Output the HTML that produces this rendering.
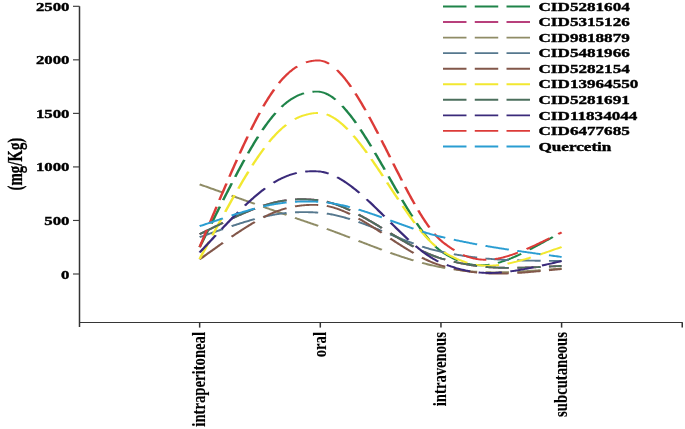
<!DOCTYPE html>
<html><head><meta charset="utf-8"><style>
html,body{margin:0;padding:0;background:#fff;}
body{width:685px;height:429px;overflow:hidden;}
svg{display:block;}
text{font-family:"Liberation Serif",serif;font-weight:bold;fill:#000;stroke:#000;stroke-width:0.4px;}
svg{will-change:transform;}
</style></head><body>
<svg width="685" height="429" viewBox="0 0 685 429">
<rect x="0" y="0" width="685" height="429" fill="#fff"/>

<g fill="none">
<path d="M79.5,6.3 L79.5,327" stroke="#333" stroke-width="1.5"/>
<path d="M79.5,322.4 L682.7,322.4" stroke="#363636" stroke-width="1.05"/>
<path d="M73,274.00 L79.5,274.00" stroke="#3c3c3c" stroke-width="1.15"/>
<path d="M73,220.46 L79.5,220.46" stroke="#3c3c3c" stroke-width="1.15"/>
<path d="M73,166.92 L79.5,166.92" stroke="#3c3c3c" stroke-width="1.15"/>
<path d="M73,113.38 L79.5,113.38" stroke="#3c3c3c" stroke-width="1.15"/>
<path d="M73,59.84 L79.5,59.84" stroke="#3c3c3c" stroke-width="1.15"/>
<path d="M73,6.30 L79.5,6.30" stroke="#3c3c3c" stroke-width="1.15"/>
<path d="M199.65,322.4 L199.65,327.6" stroke="#333" stroke-width="1.5"/>
<path d="M320.30,322.4 L320.30,327.6" stroke="#333" stroke-width="1.5"/>
<path d="M440.95,322.4 L440.95,327.6" stroke="#333" stroke-width="1.5"/>
<path d="M561.60,322.4 L561.60,327.6" stroke="#333" stroke-width="1.5"/>
<path d="M682.25,322.4 L682.25,327.6" stroke="#333" stroke-width="1.5"/>
</g>
<text transform="translate(69.5,278.55) scale(1.245,1)" font-size="13.50" text-anchor="end">0</text>
<text transform="translate(69.5,225.01) scale(1.245,1)" font-size="13.50" text-anchor="end">500</text>
<text transform="translate(69.5,171.47) scale(1.245,1)" font-size="13.50" text-anchor="end">1000</text>
<text transform="translate(69.5,117.93) scale(1.245,1)" font-size="13.50" text-anchor="end">1500</text>
<text transform="translate(69.5,64.39) scale(1.245,1)" font-size="13.50" text-anchor="end">2000</text>
<text transform="translate(69.5,10.85) scale(1.245,1)" font-size="13.50" text-anchor="end">2500</text>
<text transform="translate(21.6,190.4) scale(1.37,1) rotate(-90)" font-size="14.8" style="stroke-width:0.2px">(mg/Kg)</text>
<text transform="translate(205.05,332) scale(1.334,1) rotate(-90)" font-size="14.70" text-anchor="end" style="stroke-width:0.1px">intraperitoneal</text>
<text transform="translate(325.70,332) scale(1.334,1) rotate(-90)" font-size="14.70" text-anchor="end" style="stroke-width:0.1px">oral</text>
<text transform="translate(446.35,332) scale(1.334,1) rotate(-90)" font-size="14.70" text-anchor="end" style="stroke-width:0.1px">intravenous</text>
<text transform="translate(567.00,332) scale(1.334,1) rotate(-90)" font-size="14.70" text-anchor="end" style="stroke-width:0.1px">subcutaneous</text>
<g transform="scale(1.3570,1)" fill="none" stroke-width="1.90" stroke-linecap="butt" stroke-linejoin="round">
<path stroke="#1f8449" d="M147.13,247.25 148.12,244.52 149.11,241.81 150.09,239.13 151.07,236.47 152.03,233.84 152.98,231.24 153.36,230.20M155.79,223.58 156.70,221.08 157.61,218.61 158.52,216.16 159.41,213.73 160.30,211.33 161.17,208.96 162.04,206.61M164.44,200.18 165.28,197.93 166.12,195.70 166.94,193.50 167.77,191.32 168.58,189.17 169.39,187.05 170.19,184.95 170.82,183.28M173.33,176.79 174.10,174.82 174.87,172.87 175.62,170.94 176.38,169.04 177.13,167.16 177.87,165.30 178.61,163.47 179.34,161.67 180.07,159.89M182.79,153.34 183.50,151.68 184.20,150.04 184.90,148.42 185.59,146.83 186.28,145.26 186.97,143.71 187.65,142.19 188.33,140.69 189.01,139.22 189.68,137.77 190.22,136.62M193.40,130.07 194.05,128.78 194.71,127.50 195.36,126.25 196.01,125.03 196.65,123.82 197.30,122.64 197.94,121.48 198.58,120.35 199.22,119.24 199.86,118.15 200.50,117.08 201.14,116.04 201.78,115.02 202.41,114.02 203.05,113.04M207.49,106.83 208.12,106.04 208.76,105.26 209.39,104.51 210.03,103.77 210.67,103.07 211.31,102.38 211.95,101.71 212.59,101.07 213.23,100.44 213.87,99.84 214.52,99.26 215.17,98.71 215.82,98.17 216.47,97.66 217.12,97.16 217.77,96.69 218.43,96.24 219.09,95.81 219.75,95.40 220.42,95.02 221.09,94.65 221.76,94.31 222.43,93.98 223.11,93.68 223.79,93.40 224.07,93.29M230.24,91.78 230.96,91.71 231.68,91.65 232.42,91.62 233.15,91.61 233.89,91.62 234.64,91.66 235.39,91.75 236.14,91.89 236.89,92.09 237.64,92.33 238.40,92.64 239.15,92.99 239.91,93.39 240.67,93.84 241.43,94.34 242.19,94.88 242.95,95.48 243.72,96.12 244.48,96.80 245.25,97.53 246.01,98.30 246.78,99.12 247.24,99.62M252.19,105.93 252.96,107.06 253.74,108.21 254.52,109.41 255.29,110.63 256.07,111.89 256.85,113.18 257.63,114.50 258.41,115.85 259.19,117.23 259.98,118.63 260.76,120.07 261.54,121.53 262.33,123.01M265.62,129.52 266.41,131.12 267.19,132.75 267.98,134.39 268.77,136.06 269.55,137.74 270.34,139.44 271.12,141.15 271.91,142.88 272.70,144.63 273.49,146.38M276.32,152.81 277.10,154.62 277.89,156.44 278.68,158.27 279.46,160.10 280.25,161.94 281.03,163.78 281.82,165.63 282.60,167.49 283.39,169.34 283.55,169.72M286.37,176.41 287.15,178.27 287.93,180.13 288.71,181.98 289.49,183.83 290.27,185.68 291.05,187.52 291.83,189.35 292.61,191.18 293.39,193.00 293.54,193.36M296.33,199.83 297.10,201.60 297.88,203.35 298.65,205.10 299.42,206.83 300.19,208.54 300.95,210.24 301.72,211.92 302.49,213.58 303.25,215.22 303.86,216.52M307.05,223.13 307.81,224.65 308.56,226.14 309.32,227.60 310.07,229.04 310.82,230.45 311.57,231.83 312.32,233.18 313.07,234.51 313.81,235.80 314.55,237.06 315.29,238.29 316.03,239.49 316.33,239.96M320.73,246.31 321.45,247.24 322.18,248.12 322.90,248.97 323.62,249.77 324.34,250.53 325.05,251.25 325.77,251.92 326.48,252.55 327.18,253.17 327.89,253.76 328.58,254.35 329.28,254.91 329.97,255.46 330.66,256.00 331.34,256.51 332.02,257.02 332.70,257.50 333.37,257.98 334.04,258.43 334.71,258.87 335.37,259.30 336.03,259.71 336.69,260.10 337.35,260.48M343.54,263.37 344.17,263.60 344.81,263.81 345.44,264.00 346.07,264.18 346.71,264.35 347.34,264.50 347.97,264.64 348.60,264.77 349.23,264.88 349.86,264.98 350.49,265.06 351.12,265.13 351.75,265.19 352.38,265.24 353.01,265.27 353.64,265.28 354.27,265.29 354.90,265.28 355.54,265.26 356.17,265.22 356.81,265.18 357.44,265.11 358.08,265.04 358.72,264.96 359.36,264.86 360.00,264.75 360.65,264.62 360.78,264.60M366.95,262.82 367.62,262.56 368.30,262.30 368.98,262.03 369.66,261.74 370.34,261.44 371.03,261.13 371.72,260.81 372.42,260.48 373.12,260.14 373.82,259.79 374.53,259.42 375.25,259.05 375.96,258.66 376.69,258.27 377.41,257.86 378.15,257.44 378.88,257.01 379.63,256.57 380.37,256.12 381.13,255.66 381.88,255.19 382.65,254.71 383.42,254.22 384.04,253.82M390.29,249.60 391.12,249.01 391.96,248.42 392.80,247.82 393.66,247.21 394.52,246.59 395.38,245.96 396.26,245.32 397.14,244.67 398.03,244.01 398.93,243.35 399.84,242.67 400.75,241.99 401.67,241.30 402.60,240.60 403.54,239.89 404.49,239.17 405.45,238.45 406.42,237.72 407.39,236.98"/>
<path stroke="#b8407c" d="M147.13,234.25 148.13,233.58 149.12,232.91 150.10,232.26 151.07,231.60 152.03,230.96 152.98,230.32 153.93,229.68 154.86,229.06 155.79,228.44 156.71,227.82 157.62,227.22 158.52,226.62 159.42,226.02 160.30,225.43 161.18,224.85 162.05,224.28 162.92,223.71 163.77,223.15 164.28,222.81M170.68,218.68 171.47,218.18 172.26,217.69 173.04,217.20 173.81,216.72 174.58,216.24 175.34,215.77 176.10,215.31 176.85,214.86 177.59,214.41 178.33,213.96 179.07,213.53 179.80,213.10 180.52,212.68 181.24,212.26 181.96,211.85 182.67,211.45 183.38,211.05 184.08,210.66 184.78,210.28 185.48,209.90 186.17,209.53 186.86,209.16 187.54,208.81 187.81,208.66M193.95,205.70 194.60,205.42 195.25,205.13 195.90,204.86 196.55,204.59 197.19,204.33 197.84,204.07 198.48,203.83 199.12,203.58 199.76,203.35 200.40,203.12 201.04,202.90 201.68,202.68 202.31,202.47 202.95,202.27 203.58,202.07 204.22,201.88 204.85,201.70 205.48,201.52 206.12,201.35 206.75,201.19 207.39,201.03 208.02,200.88 208.66,200.74 209.29,200.60 209.93,200.47 210.56,200.35 211.20,200.23M217.40,199.44 218.05,199.40 218.71,199.36 219.37,199.32 220.04,199.30 220.70,199.28 221.37,199.26 222.04,199.26 222.72,199.26 223.40,199.26 224.08,199.28 224.76,199.30 225.45,199.32 226.14,199.35 226.84,199.39 227.54,199.44 228.25,199.49 228.95,199.55 229.67,199.62 230.38,199.69 231.11,199.77 231.83,199.86 232.57,199.95 233.30,200.05 234.04,200.16 234.49,200.22M240.79,201.75 241.55,202.00 242.30,202.27 243.06,202.54 243.81,202.83 244.57,203.14 245.33,203.45 246.09,203.78 246.85,204.12 247.61,204.48 248.37,204.84 249.13,205.22 249.90,205.61 250.66,206.00 251.42,206.41 252.19,206.83 252.96,207.26 253.72,207.70 254.49,208.15 255.26,208.61 256.02,209.08 256.79,209.56 257.56,210.05 258.02,210.34M264.19,214.56 264.97,215.12 265.74,215.68 266.51,216.25 267.29,216.83 268.06,217.41 268.84,218.00 269.61,218.59 270.39,219.19 271.16,219.79 271.94,220.40 272.71,221.01 273.49,221.62 274.26,222.24 275.04,222.86 275.82,223.48 276.59,224.10 277.37,224.73 278.15,225.36 278.92,226.00 279.70,226.63 280.48,227.27 281.25,227.90 281.41,228.03M287.62,233.15 288.40,233.78 289.18,234.42 289.95,235.06 290.73,235.69 291.50,236.32 292.28,236.95 293.05,237.58 293.83,238.20 294.60,238.82 295.37,239.44 296.15,240.05 296.92,240.66 297.70,241.27 298.47,241.87 299.24,242.47 300.01,243.07 300.78,243.65 301.55,244.24 302.33,244.82 303.10,245.39 303.87,245.96 304.63,246.52 304.79,246.63M311.07,250.95 311.84,251.44 312.60,251.92 313.36,252.40 314.12,252.86 314.89,253.31 315.65,253.76 316.40,254.19 317.16,254.62 317.92,255.03 318.68,255.44 319.43,255.83 320.19,256.21 320.94,256.58 321.70,256.94 322.45,257.29 323.20,257.63 323.95,257.95 324.70,258.26 325.45,258.56 326.20,258.84 326.94,259.12 327.68,259.39 328.12,259.55M334.40,261.69 335.10,261.91 335.79,262.13 336.47,262.34 337.16,262.55 337.84,262.75 338.51,262.95 339.19,263.14 339.86,263.33 340.53,263.51 341.19,263.69 341.86,263.86 342.52,264.03 343.17,264.20 343.83,264.36 344.48,264.52 345.14,264.67 345.79,264.82 346.43,264.97 347.08,265.11 347.73,265.24 348.37,265.38 349.02,265.51 349.66,265.63 350.30,265.75 350.94,265.87 351.58,265.98M357.84,266.90 358.48,266.98 359.12,267.05 359.76,267.12 360.41,267.18 361.05,267.24 361.70,267.30 362.35,267.36 362.99,267.41 363.65,267.46 364.30,267.51 364.95,267.55 365.61,267.59 366.27,267.63 366.93,267.66 367.59,267.69 368.26,267.72 368.93,267.74 369.60,267.77 370.27,267.79 370.95,267.80 371.63,267.82 372.31,267.83 373.00,267.84 373.69,267.85 374.38,267.85 374.94,267.85M381.26,267.77 382.00,267.76 382.75,267.73 383.50,267.71 384.26,267.68 385.02,267.66 385.79,267.63 386.56,267.59 387.34,267.56 388.12,267.53 388.91,267.49 389.71,267.45 390.52,267.41 391.33,267.37 392.14,267.32 392.97,267.28 393.80,267.23 394.64,267.18 395.48,267.13 396.33,267.08 397.19,267.03 398.06,266.98 398.41,266.95M404.53,266.55 405.46,266.49 406.41,266.42 407.36,266.36 408.31,266.29 409.28,266.22 410.26,266.16 411.25,266.09 412.24,266.02 413.25,265.95 413.85,265.90"/>
<path stroke="#8f8c66" d="M147.13,184.36 148.12,184.84 149.11,185.32 150.09,185.79 151.06,186.26 152.03,186.72 152.98,187.18 153.92,187.63 154.86,188.08 155.78,188.52 156.70,188.97 157.61,189.40 158.51,189.84 159.41,190.27 160.29,190.69 161.17,191.11 162.04,191.53 162.90,191.94 163.76,192.36 164.27,192.60M170.66,195.67 171.45,196.05 172.24,196.43 173.02,196.80 173.79,197.17 174.56,197.54 175.32,197.90 176.07,198.26 176.82,198.62 177.57,198.98 178.31,199.34 179.04,199.69 179.77,200.04 180.50,200.38 181.22,200.73 181.93,201.07 182.64,201.41 183.35,201.75 184.05,202.09 184.75,202.42 185.45,202.75 186.14,203.08 186.83,203.41 187.51,203.74 187.78,203.87M194.05,206.86 194.70,207.17 195.35,207.48 196.00,207.78 196.65,208.09 197.29,208.40 197.94,208.71 198.58,209.01 199.22,209.31 199.86,209.62 200.50,209.92 201.13,210.22 201.77,210.53 202.41,210.83 203.04,211.13 203.68,211.43 204.31,211.73 204.95,212.03 205.58,212.33 206.21,212.63 206.85,212.93 207.48,213.23 208.12,213.53 208.75,213.83 209.39,214.13 210.03,214.43 210.66,214.73 211.17,214.97M217.38,217.88 218.03,218.19 218.69,218.50 219.35,218.81 220.02,219.12 220.68,219.43 221.35,219.74 222.03,220.06 222.70,220.37 223.38,220.69 224.06,221.01 224.75,221.33 225.44,221.65 226.13,221.98 226.83,222.30 227.53,222.63 228.24,222.96 228.95,223.29 229.66,223.62 230.38,223.95 231.10,224.29 231.83,224.63 232.56,224.97 233.30,225.31 234.04,225.66 234.49,225.87M240.80,228.88 241.56,229.25 242.31,229.63 243.07,230.00 243.83,230.38 244.58,230.76 245.34,231.14 246.10,231.52 246.86,231.90 247.62,232.29 248.39,232.67 249.15,233.06 249.91,233.45 250.67,233.84 251.44,234.24 252.20,234.63 252.97,235.03 253.74,235.42 254.50,235.82 255.27,236.22 256.04,236.62 256.81,237.02 257.57,237.42 257.88,237.58M264.20,240.89 264.98,241.29 265.75,241.69 266.52,242.10 267.30,242.50 268.07,242.91 268.84,243.31 269.62,243.71 270.39,244.12 271.17,244.52 271.94,244.92 272.72,245.32 273.49,245.72 274.27,246.12 275.04,246.52 275.82,246.92 276.60,247.31 277.37,247.71 278.15,248.10 278.92,248.50 279.70,248.89 280.48,249.28 281.25,249.67 281.41,249.75M287.61,252.80 288.39,253.17 289.17,253.54 289.94,253.91 290.72,254.28 291.49,254.64 292.27,255.00 293.04,255.36 293.81,255.72 294.59,256.07 295.36,256.43 296.14,256.77 296.91,257.12 297.68,257.46 298.45,257.80 299.23,258.14 300.00,258.47 300.77,258.80 301.54,259.13 302.31,259.45 303.08,259.77 303.85,260.09 304.62,260.40 304.77,260.47M311.06,262.89 311.82,263.16 312.59,263.44 313.35,263.70 314.11,263.97 314.87,264.23 315.63,264.48 316.39,264.73 317.15,264.98 317.91,265.22 318.67,265.45 319.42,265.68 320.18,265.91 320.94,266.13 321.69,266.34 322.44,266.55 323.20,266.76 323.95,266.96 324.70,267.15 325.45,267.34 326.20,267.53 326.95,267.70 327.69,267.88 328.13,267.98M334.42,269.34 335.11,269.48 335.80,269.61 336.49,269.74 337.18,269.87 337.86,269.99 338.53,270.11 339.21,270.23 339.88,270.34 340.55,270.45 341.22,270.56 341.88,270.66 342.54,270.76 343.20,270.86 343.86,270.95 344.51,271.04 345.16,271.13 345.81,271.21 346.46,271.29 347.11,271.37 347.76,271.44 348.40,271.51 349.05,271.58 349.69,271.64 350.33,271.71 350.97,271.76 351.61,271.82M357.75,272.21 358.39,272.23 359.03,272.26 359.67,272.28 360.31,272.29 360.96,272.31 361.60,272.32 362.25,272.33 362.90,272.34 363.55,272.34 364.20,272.34 364.86,272.34 365.51,272.34 366.17,272.34 366.83,272.33 367.49,272.32 368.16,272.31 368.83,272.29 369.50,272.27 370.17,272.25 370.85,272.23 371.53,272.21 372.21,272.18 372.89,272.15 373.58,272.12 374.28,272.09 374.97,272.05M381.14,271.67 381.88,271.61 382.63,271.55 383.38,271.50 384.13,271.44 384.89,271.37 385.66,271.31 386.43,271.24 387.21,271.18 387.99,271.11 388.78,271.04 389.57,270.96 390.38,270.89 391.18,270.81 392.00,270.74 392.82,270.66 393.65,270.58 394.49,270.49 395.33,270.41 396.18,270.32 397.03,270.24 397.90,270.15 398.42,270.09M404.54,269.45 405.47,269.35 406.41,269.25 407.36,269.15 408.32,269.04 409.29,268.94 410.26,268.83 411.25,268.73 412.24,268.62 413.25,268.51 413.85,268.44"/>
<path stroke="#56788e" d="M147.13,237.19 148.12,236.71 149.11,236.24 150.09,235.78 151.07,235.31 152.03,234.86 152.98,234.41 153.92,233.96 154.86,233.51 155.79,233.08 156.71,232.64 157.62,232.21 158.52,231.79 159.41,231.37 160.30,230.95 161.17,230.54 162.04,230.13 162.91,229.73 163.76,229.34 164.27,229.10M170.67,226.18 171.46,225.82 172.24,225.47 173.02,225.13 173.80,224.78 174.56,224.45 175.32,224.12 176.08,223.79 176.83,223.46 177.57,223.15 178.31,222.83 179.05,222.52 179.78,222.22 180.50,221.92 181.22,221.62 181.94,221.33 182.65,221.04 183.36,220.76 184.06,220.48 184.76,220.21 185.46,219.94 186.15,219.68 186.83,219.42 187.52,219.16 187.79,219.06M194.06,216.91 194.71,216.70 195.36,216.50 196.01,216.30 196.66,216.11 197.30,215.92 197.94,215.74 198.59,215.56 199.23,215.39 199.87,215.22 200.51,215.05 201.14,214.89 201.78,214.73 202.42,214.58 203.05,214.44 203.69,214.29 204.32,214.16 204.95,214.02 205.59,213.89 206.22,213.77 206.86,213.65 207.49,213.53 208.13,213.42 208.76,213.32 209.40,213.21 210.03,213.12 210.67,213.02 211.18,212.95M217.38,212.33 218.04,212.29 218.70,212.25 219.36,212.22 220.02,212.19 220.69,212.17 221.36,212.15 222.03,212.14 222.71,212.13 223.38,212.12 224.07,212.12 224.75,212.12 225.44,212.13 226.14,212.15 226.83,212.16 227.53,212.19 228.24,212.21 228.95,212.24 229.66,212.28 230.38,212.32 231.10,212.36 231.83,212.41 232.56,212.47 233.30,212.52 234.04,212.59 234.49,212.63M240.80,213.58 241.55,213.74 242.31,213.91 243.06,214.09 243.82,214.28 244.58,214.47 245.34,214.68 246.10,214.89 246.86,215.11 247.62,215.34 248.38,215.58 249.14,215.83 249.90,216.08 250.67,216.34 251.43,216.61 252.20,216.88 252.96,217.17 253.73,217.45 254.50,217.75 255.26,218.05 256.03,218.36 256.80,218.68 257.57,219.00 257.87,219.13M264.19,221.98 264.97,222.35 265.74,222.73 266.51,223.11 267.29,223.49 268.06,223.88 268.83,224.27 269.61,224.66 270.38,225.06 271.16,225.46 271.93,225.86 272.71,226.27 273.48,226.68 274.26,227.09 275.03,227.50 275.81,227.92 276.59,228.34 277.36,228.76 278.14,229.18 278.91,229.60 279.69,230.03 280.47,230.46 281.24,230.88 281.40,230.97M287.61,234.41 288.38,234.84 289.16,235.26 289.93,235.69 290.71,236.12 291.48,236.55 292.26,236.97 293.03,237.39 293.81,237.82 294.58,238.24 295.35,238.66 296.13,239.07 296.90,239.49 297.67,239.90 298.45,240.31 299.22,240.71 299.99,241.12 300.76,241.52 301.53,241.92 302.30,242.31 303.07,242.70 303.84,243.09 304.61,243.47 304.77,243.55M311.05,246.52 311.82,246.85 312.58,247.19 313.34,247.52 314.11,247.84 314.87,248.15 315.63,248.46 316.39,248.77 317.15,249.07 317.91,249.36 318.67,249.64 319.42,249.92 320.18,250.19 320.93,250.45 321.69,250.70 322.44,250.95 323.20,251.19 323.95,251.42 324.70,251.65 325.45,251.86 326.20,252.07 326.95,252.27 327.69,252.47 328.13,252.59M334.42,254.18 335.12,254.35 335.81,254.51 336.49,254.67 337.18,254.83 337.86,254.98 338.54,255.14 339.21,255.28 339.88,255.43 340.55,255.57 341.22,255.71 341.88,255.85 342.54,255.99 343.20,256.12 343.86,256.25 344.51,256.38 345.17,256.50 345.82,256.63 346.47,256.75 347.12,256.87 347.76,256.98 348.41,257.09 349.05,257.20 349.69,257.31 350.33,257.42 350.98,257.52 351.62,257.62M357.75,258.49 358.39,258.57 359.03,258.64 359.68,258.72 360.32,258.79 360.96,258.86 361.61,258.93 362.26,259.00 362.91,259.07 363.56,259.13 364.21,259.20 364.86,259.26 365.52,259.32 366.18,259.38 366.84,259.43 367.50,259.49 368.16,259.54 368.83,259.59 369.50,259.64 370.17,259.69 370.85,259.74 371.53,259.79 372.21,259.83 372.90,259.88 373.59,259.92 374.28,259.96 374.98,260.00M381.15,260.30 381.89,260.32 382.63,260.35 383.38,260.38 384.13,260.41 384.89,260.43 385.66,260.46 386.43,260.48 387.21,260.51 387.99,260.53 388.78,260.55 389.58,260.57 390.38,260.60 391.19,260.62 392.00,260.64 392.82,260.65 393.65,260.67 394.49,260.69 395.33,260.71 396.18,260.73 397.04,260.74 397.90,260.76 398.42,260.77M404.54,260.87 405.47,260.89 406.41,260.90 407.36,260.92 408.32,260.93 409.29,260.95 410.26,260.96 411.25,260.97 412.24,260.99 413.25,261.00 413.85,261.01"/>
<path stroke="#82574a" d="M147.13,259.38 148.12,258.41 149.11,257.45 150.09,256.49 151.07,255.55 152.03,254.61 152.98,253.69 153.92,252.77 154.86,251.86 155.79,250.97 156.70,250.08 157.61,249.20 158.52,248.33 159.41,247.46 160.30,246.61 161.17,245.77 162.04,244.93 162.91,244.11 163.76,243.29 164.27,242.81M170.67,236.79 171.46,236.06 172.24,235.34 173.02,234.62 173.79,233.92 174.56,233.22 175.32,232.54 176.08,231.86 176.83,231.19 177.57,230.53 178.31,229.88 179.05,229.23 179.78,228.60 180.50,227.97 181.22,227.35 181.94,226.75 182.65,226.15 183.36,225.56 184.06,224.97 184.76,224.40 185.45,223.83 186.14,223.28 186.83,222.73 187.51,222.19 187.79,221.98M194.05,217.36 194.70,216.91 195.36,216.47 196.00,216.04 196.65,215.62 197.30,215.21 197.94,214.80 198.58,214.41 199.22,214.02 199.86,213.64 200.50,213.26 201.14,212.90 201.78,212.55 202.41,212.20 203.05,211.86 203.68,211.53 204.32,211.21 204.95,210.89 205.59,210.59 206.22,210.29 206.85,210.00 207.49,209.72 208.12,209.44 208.76,209.18 209.39,208.92 210.03,208.67 210.67,208.43 211.18,208.24M217.38,206.39 218.04,206.24 218.70,206.10 219.36,205.97 220.02,205.84 220.69,205.72 221.36,205.61 222.03,205.51 222.70,205.41 223.38,205.32 224.07,205.24 224.75,205.17 225.44,205.11 226.13,205.05 226.83,205.00 227.53,204.96 228.24,204.92 228.95,204.90 229.66,204.88 230.38,204.87 231.10,204.86 231.83,204.87 232.56,204.88 233.30,204.90 234.04,204.93 234.49,204.95M240.80,205.95 241.55,206.15 242.31,206.37 243.07,206.61 243.83,206.87 244.58,207.13 245.34,207.42 246.10,207.72 246.86,208.04 247.62,208.37 248.39,208.71 249.15,209.07 249.91,209.44 250.68,209.83 251.44,210.23 252.21,210.64 252.97,211.07 253.74,211.51 254.51,211.96 255.27,212.42 256.04,212.90 256.81,213.38 257.58,213.88 257.89,214.08M264.21,218.56 264.99,219.14 265.76,219.74 266.53,220.34 267.31,220.95 268.08,221.56 268.86,222.19 269.63,222.81 270.41,223.45 271.18,224.09 271.96,224.74 272.74,225.39 273.51,226.04 274.29,226.70 275.06,227.37 275.84,228.04 276.62,228.71 277.39,229.39 278.17,230.07 278.95,230.75 279.72,231.43 280.50,232.12 281.28,232.81M287.64,238.48 288.42,239.17 289.19,239.86 289.97,240.55 290.74,241.24 291.52,241.92 292.29,242.61 293.07,243.29 293.84,243.96 294.62,244.64 295.39,245.31 296.16,245.98 296.94,246.64 297.71,247.30 298.48,247.95 299.25,248.60 300.03,249.24 300.80,249.88 301.57,250.51 302.34,251.13 303.11,251.75 303.88,252.36 304.65,252.97 304.80,253.09M310.93,257.62 311.69,258.15 312.46,258.66 313.22,259.17 313.98,259.66 314.74,260.15 315.50,260.62 316.26,261.08 317.02,261.53 317.77,261.96 318.53,262.39 319.29,262.80 320.04,263.20 320.80,263.58 321.55,263.95 322.30,264.31 323.05,264.65 323.80,264.98 324.55,265.29 325.30,265.59 326.05,265.87 326.79,266.14 327.53,266.41 328.12,266.62M334.40,268.69 335.09,268.90 335.78,269.11 336.47,269.31 337.15,269.50 337.83,269.69 338.51,269.88 339.18,270.05 339.85,270.23 340.52,270.40 341.19,270.56 341.85,270.72 342.51,270.88 343.17,271.03 343.82,271.18 344.48,271.32 345.13,271.46 345.78,271.59 346.43,271.72 347.07,271.84 347.72,271.96 348.36,272.07 349.01,272.18 349.65,272.29 350.29,272.39 350.93,272.48 351.57,272.58M357.83,273.27 358.47,273.32 359.11,273.36 359.75,273.40 360.40,273.44 361.04,273.47 361.69,273.50 362.34,273.53 362.98,273.55 363.64,273.57 364.29,273.59 364.94,273.60 365.60,273.61 366.26,273.61 366.92,273.61 367.58,273.61 368.25,273.61 368.92,273.60 369.59,273.59 370.26,273.57 370.94,273.55 371.62,273.53 372.30,273.51 372.99,273.48 373.68,273.45 374.38,273.42 374.93,273.39M381.25,272.95 381.99,272.88 382.74,272.82 383.49,272.75 384.25,272.68 385.01,272.60 385.78,272.53 386.55,272.45 387.33,272.37 388.12,272.28 388.91,272.20 389.71,272.11 390.51,272.02 391.32,271.93 392.14,271.83 392.96,271.73 393.79,271.64 394.63,271.53 395.48,271.43 396.33,271.33 397.19,271.22 398.05,271.11 398.40,271.07M404.53,270.27 405.46,270.15 406.40,270.02 407.35,269.89 408.31,269.77 409.28,269.64 410.26,269.51 411.24,269.37 412.24,269.24 413.25,269.10 413.85,269.02"/>
<path stroke="#f2e830" d="M147.13,258.99 148.12,256.46 149.11,253.97 150.09,251.49 151.07,249.04 152.03,246.62 152.98,244.21 153.92,241.84M156.52,235.30 157.43,233.01 158.34,230.75 159.23,228.51 160.12,226.29 161.00,224.09 161.87,221.92 162.73,219.78 163.25,218.50M165.95,211.83 166.78,209.79 167.60,207.78 168.42,205.78 169.23,203.82 170.03,201.87 170.82,199.95 171.61,198.05 172.40,196.17 172.86,195.06M175.62,188.54 176.38,186.78 177.13,185.04 177.87,183.32 178.61,181.63 179.34,179.96 180.07,178.31 180.79,176.68 181.51,175.08 182.22,173.49 182.93,171.93 183.07,171.62M186.01,165.32 186.69,163.87 187.38,162.45 188.06,161.05 188.74,159.67 189.41,158.31 190.08,156.97 190.75,155.66 191.42,154.36 192.08,153.09 192.74,151.84 193.40,150.60 194.05,149.39 194.70,148.20M198.33,141.92 198.97,140.87 199.61,139.84 200.25,138.82 200.88,137.83 201.52,136.86 202.16,135.91 202.79,134.98 203.43,134.07 204.06,133.17 204.70,132.30 205.33,131.45 205.97,130.62 206.60,129.81 207.23,129.02 207.87,128.25 208.50,127.49 209.14,126.76 209.78,126.05 210.41,125.35 210.92,124.81M217.25,119.19 217.90,118.72 218.56,118.27 219.22,117.83 219.89,117.42 220.55,117.02 221.22,116.64 221.89,116.28 222.57,115.94 223.25,115.62 223.93,115.32 224.61,115.03 225.30,114.77 225.99,114.52 226.69,114.29 227.39,114.07 228.10,113.88 228.80,113.70 229.52,113.55 230.24,113.40 230.96,113.28 231.68,113.18 232.42,113.09 233.15,113.02 233.89,112.97 234.34,112.95M240.66,114.38 241.42,114.76 242.18,115.18 242.94,115.65 243.70,116.15 244.46,116.70 245.23,117.28 245.99,117.90 246.76,118.56 247.52,119.26 248.29,119.99 249.06,120.76 249.83,121.56 250.60,122.40 251.37,123.27 252.14,124.18 252.92,125.11 253.69,126.08 254.46,127.08 255.24,128.10 256.01,129.16 256.17,129.37M260.52,135.81 261.30,137.04 262.08,138.30 262.86,139.58 263.64,140.88 264.42,142.20 265.20,143.54 265.98,144.90 266.77,146.28 267.55,147.68 268.33,149.09 269.11,150.53 269.90,151.97 270.37,152.85M273.65,159.12 274.44,160.65 275.22,162.18 276.00,163.73 276.79,165.28 277.57,166.85 278.35,168.42 279.14,170.00 279.92,171.59 280.70,173.18 281.48,174.77 282.11,176.06M285.24,182.49 286.02,184.10 286.80,185.71 287.58,187.32 288.36,188.93 289.14,190.54 289.92,192.14 290.69,193.74 291.47,195.34 292.25,196.93 293.02,198.52 293.49,199.47M296.74,206.03 297.51,207.56 298.29,209.09 299.06,210.61 299.83,212.11 300.60,213.60 301.36,215.08 302.13,216.54 302.90,217.98 303.66,219.41 304.43,220.83 305.19,222.23 305.65,223.06M309.30,229.44 310.05,230.70 310.81,231.95 311.56,233.17 312.31,234.37 313.07,235.54 313.82,236.69 314.56,237.81 315.31,238.90 316.06,239.97 316.80,241.00 317.54,242.01 318.29,242.99 319.03,243.93 319.77,244.85 320.50,245.73 321.09,246.41M327.20,252.23 327.92,252.80 328.63,253.35 329.33,253.89 330.03,254.41 330.73,254.93 331.42,255.42 332.11,255.91 332.80,256.39 333.48,256.85 334.16,257.30 334.83,257.73 335.51,258.16 336.18,258.57 336.84,258.97 337.51,259.35 338.17,259.73 338.83,260.09 339.48,260.44 340.14,260.78 340.79,261.10 341.44,261.42 342.08,261.72 342.73,262.01 343.37,262.29 344.02,262.56 344.40,262.72M350.63,264.68 351.27,264.82 351.90,264.95 352.53,265.07 353.17,265.18 353.80,265.28 354.43,265.37 355.07,265.45 355.70,265.52 356.34,265.58 356.97,265.62 357.61,265.66 358.25,265.69 358.89,265.71 359.53,265.72 360.18,265.72 360.82,265.71 361.47,265.69 362.11,265.66 362.76,265.62 363.42,265.57 364.07,265.51 364.73,265.44 365.39,265.37 366.05,265.28 366.71,265.19 367.38,265.09 367.78,265.02M373.96,263.66 374.66,263.47 375.37,263.27 376.09,263.06 376.80,262.84 377.53,262.62 378.25,262.39 378.99,262.15 379.72,261.90 380.47,261.65 381.21,261.38 381.97,261.11 382.72,260.84 383.49,260.55 384.26,260.26 385.03,259.96 385.81,259.66 386.60,259.34 387.40,259.02 388.20,258.70 389.00,258.36 389.81,258.02 390.63,257.68 391.13,257.47M397.45,254.68 398.33,254.28 399.22,253.87 400.13,253.46 401.03,253.04 401.95,252.61 402.88,252.18 403.81,251.74 404.75,251.30 405.71,250.85 406.67,250.40 407.64,249.94 408.61,249.48 409.60,249.01 410.60,248.54 411.61,248.06 412.62,247.58 413.65,247.09 413.85,246.99"/>
<path stroke="#4c6f5d" d="M147.13,234.25 148.13,233.58 149.12,232.91 150.10,232.26 151.07,231.60 152.03,230.96 152.98,230.32 153.93,229.68 154.86,229.06 155.79,228.44 156.71,227.82 157.62,227.22 158.52,226.62 159.42,226.02 160.30,225.43 161.18,224.85 162.05,224.28 162.92,223.71 163.77,223.15 164.28,222.81M170.68,218.68 171.47,218.18 172.26,217.69 173.04,217.20 173.81,216.72 174.58,216.24 175.34,215.77 176.10,215.31 176.85,214.86 177.59,214.41 178.33,213.96 179.07,213.53 179.80,213.10 180.52,212.68 181.24,212.26 181.96,211.85 182.67,211.45 183.38,211.05 184.08,210.66 184.78,210.28 185.48,209.90 186.17,209.53 186.86,209.16 187.54,208.81 187.81,208.66M193.95,205.70 194.60,205.42 195.25,205.13 195.90,204.86 196.55,204.59 197.19,204.33 197.84,204.07 198.48,203.83 199.12,203.58 199.76,203.35 200.40,203.12 201.04,202.90 201.68,202.68 202.31,202.47 202.95,202.27 203.58,202.07 204.22,201.88 204.85,201.70 205.48,201.52 206.12,201.35 206.75,201.19 207.39,201.03 208.02,200.88 208.66,200.74 209.29,200.60 209.93,200.47 210.56,200.35 211.20,200.23M217.40,199.44 218.05,199.40 218.71,199.36 219.37,199.32 220.04,199.30 220.70,199.28 221.37,199.26 222.04,199.26 222.72,199.26 223.40,199.26 224.08,199.28 224.76,199.30 225.45,199.32 226.14,199.35 226.84,199.39 227.54,199.44 228.25,199.49 228.95,199.55 229.67,199.62 230.38,199.69 231.11,199.77 231.83,199.86 232.57,199.95 233.30,200.05 234.04,200.16 234.49,200.22M240.79,201.75 241.55,202.00 242.30,202.27 243.06,202.54 243.81,202.83 244.57,203.14 245.33,203.45 246.09,203.78 246.85,204.12 247.61,204.48 248.37,204.84 249.13,205.22 249.90,205.61 250.66,206.00 251.42,206.41 252.19,206.83 252.96,207.26 253.72,207.70 254.49,208.15 255.26,208.61 256.02,209.08 256.79,209.56 257.56,210.05 258.02,210.34M264.19,214.56 264.97,215.12 265.74,215.68 266.51,216.25 267.29,216.83 268.06,217.41 268.84,218.00 269.61,218.59 270.39,219.19 271.16,219.79 271.94,220.40 272.71,221.01 273.49,221.62 274.26,222.24 275.04,222.86 275.82,223.48 276.59,224.10 277.37,224.73 278.15,225.36 278.92,226.00 279.70,226.63 280.48,227.27 281.25,227.90 281.41,228.03M287.62,233.15 288.40,233.78 289.18,234.42 289.95,235.06 290.73,235.69 291.50,236.32 292.28,236.95 293.05,237.58 293.83,238.20 294.60,238.82 295.37,239.44 296.15,240.05 296.92,240.66 297.70,241.27 298.47,241.87 299.24,242.47 300.01,243.07 300.78,243.65 301.55,244.24 302.33,244.82 303.10,245.39 303.87,245.96 304.63,246.52 304.79,246.63M311.07,250.95 311.84,251.44 312.60,251.92 313.36,252.40 314.12,252.86 314.89,253.31 315.65,253.76 316.40,254.19 317.16,254.62 317.92,255.03 318.68,255.44 319.43,255.83 320.19,256.21 320.94,256.58 321.70,256.94 322.45,257.29 323.20,257.63 323.95,257.95 324.70,258.26 325.45,258.56 326.20,258.84 326.94,259.12 327.68,259.39 328.12,259.55M334.40,261.69 335.10,261.91 335.79,262.13 336.47,262.34 337.16,262.55 337.84,262.75 338.51,262.95 339.19,263.14 339.86,263.33 340.53,263.51 341.19,263.69 341.86,263.86 342.52,264.03 343.17,264.20 343.83,264.36 344.48,264.52 345.14,264.67 345.79,264.82 346.43,264.97 347.08,265.11 347.73,265.24 348.37,265.38 349.02,265.51 349.66,265.63 350.30,265.75 350.94,265.87 351.58,265.98M357.84,266.90 358.48,266.98 359.12,267.05 359.76,267.12 360.41,267.18 361.05,267.24 361.70,267.30 362.35,267.36 362.99,267.41 363.65,267.46 364.30,267.51 364.95,267.55 365.61,267.59 366.27,267.63 366.93,267.66 367.59,267.69 368.26,267.72 368.93,267.74 369.60,267.77 370.27,267.79 370.95,267.80 371.63,267.82 372.31,267.83 373.00,267.84 373.69,267.85 374.38,267.85 374.94,267.85M381.26,267.77 382.00,267.76 382.75,267.73 383.50,267.71 384.26,267.68 385.02,267.66 385.79,267.63 386.56,267.59 387.34,267.56 388.12,267.53 388.91,267.49 389.71,267.45 390.52,267.41 391.33,267.37 392.14,267.32 392.97,267.28 393.80,267.23 394.64,267.18 395.48,267.13 396.33,267.08 397.19,267.03 398.06,266.98 398.41,266.95M404.53,266.55 405.46,266.49 406.41,266.42 407.36,266.36 408.31,266.29 409.28,266.22 410.26,266.16 411.25,266.09 412.24,266.02 413.25,265.95 413.85,265.90"/>
<path stroke="#3a2a7a" d="M147.13,252.50 148.13,251.05 149.11,249.61 150.10,248.18 151.07,246.77 152.03,245.37 152.98,243.99 153.93,242.62 154.86,241.26 155.79,239.92 156.71,238.59 157.62,237.28 158.52,235.97 159.06,235.20M163.42,228.94 164.28,227.73 165.12,226.53 165.96,225.35 166.78,224.18 167.61,223.02 168.42,221.87 169.23,220.74 170.03,219.63 170.83,218.52 171.62,217.43 172.40,216.35 173.18,215.29 173.95,214.24 174.72,213.20 175.48,212.18 175.63,211.98M180.51,205.57 181.23,204.64 181.95,203.74 182.66,202.84 183.37,201.96 184.07,201.09 184.77,200.23 185.46,199.39 186.15,198.56 186.84,197.74 187.52,196.94 188.21,196.15 188.88,195.37 189.56,194.60 190.23,193.85 190.89,193.11 191.56,192.38 192.22,191.66 192.88,190.96 193.54,190.27 194.19,189.60 194.85,188.93 195.37,188.41M201.53,182.77 202.17,182.25 202.80,181.74 203.44,181.24 204.07,180.76 204.71,180.28 205.34,179.82 205.98,179.38 206.61,178.94 207.24,178.52 207.88,178.11 208.51,177.71 209.15,177.32 209.79,176.95 210.42,176.59 211.06,176.24 211.70,175.90 212.34,175.57 212.98,175.26 213.62,174.96 214.27,174.67 214.92,174.39 215.56,174.12 216.21,173.87 216.86,173.63 217.52,173.40 218.18,173.18 218.70,173.01M224.89,171.64 225.58,171.55 226.28,171.48 226.97,171.41 227.68,171.36 228.38,171.31 229.09,171.28 229.81,171.26 230.53,171.26 231.25,171.26 231.98,171.27 232.71,171.30 233.45,171.34 234.19,171.39 234.94,171.45 235.69,171.55 236.44,171.68 237.19,171.84 237.94,172.02 238.69,172.24 239.44,172.48 240.20,172.74 240.95,173.04 241.71,173.36 242.16,173.56M248.40,177.22 249.16,177.77 249.93,178.34 250.69,178.93 251.46,179.54 252.23,180.17 252.99,180.82 253.76,181.49 254.53,182.18 255.30,182.89 256.07,183.61 256.84,184.35 257.61,185.10 258.38,185.88 259.16,186.67 259.93,187.47 260.70,188.29 261.48,189.12 262.25,189.96 263.02,190.82 263.80,191.70 264.57,192.58 264.88,192.94M270.16,199.27 270.94,200.24 271.72,201.22 272.50,202.20 273.28,203.20 274.05,204.20 274.83,205.20 275.61,206.21 276.39,207.23 277.17,208.25 277.94,209.28 278.72,210.31 279.50,211.35 280.28,212.38 281.06,213.42 281.84,214.47 282.62,215.51 283.24,216.35M287.90,222.63 288.68,223.67 289.46,224.72 290.23,225.76 291.01,226.79 291.78,227.82 292.56,228.85 293.34,229.88 294.11,230.90 294.88,231.91 295.66,232.92 296.43,233.92 297.20,234.92 297.98,235.90 298.75,236.88 299.52,237.86 300.29,238.82 301.06,239.78M306.28,246.00 307.05,246.87 307.82,247.72 308.58,248.57 309.34,249.40 310.10,250.21 310.87,251.01 311.63,251.80 312.39,252.57 313.15,253.32 313.90,254.05 314.66,254.77 315.42,255.48 316.17,256.16 316.93,256.83 317.68,257.47 318.43,258.10 319.19,258.71 319.94,259.30 320.69,259.86 321.44,260.41 322.18,260.93 322.93,261.43 323.08,261.53M329.26,264.93 329.98,265.28 330.69,265.63 331.40,265.96 332.11,266.28 332.81,266.60 333.50,266.91 334.20,267.21 334.89,267.50 335.57,267.78 336.25,268.06 336.93,268.32 337.61,268.58 338.28,268.83 338.95,269.07 339.62,269.31 340.28,269.54 340.94,269.76 341.60,269.97 342.26,270.17 342.92,270.37 343.57,270.56 344.22,270.74 344.87,270.91 345.52,271.08 346.16,271.24 346.42,271.30M352.69,272.44 353.33,272.52 353.97,272.59 354.60,272.66 355.24,272.72 355.88,272.77 356.52,272.82 357.15,272.86 357.79,272.89 358.43,272.91 359.07,272.93 359.72,272.95 360.36,272.95 361.00,272.95 361.65,272.95 362.30,272.94 362.95,272.92 363.60,272.89 364.25,272.86 364.91,272.83 365.56,272.79 366.22,272.74 366.88,272.68 367.55,272.62 368.22,272.56 368.89,272.49 369.56,272.41 369.83,272.38M376.05,271.42 376.76,271.29 377.48,271.15 378.19,271.01 378.92,270.86 379.65,270.71 380.38,270.55 381.12,270.39 381.86,270.22 382.61,270.05 383.36,269.87 384.12,269.69 384.89,269.50 385.66,269.31 386.44,269.12 387.22,268.92 388.01,268.71 388.80,268.50 389.60,268.29 390.41,268.07 391.22,267.85 392.04,267.63 392.87,267.40 393.20,267.31M399.39,265.52 400.28,265.26 401.18,264.99 402.09,264.72 403.00,264.45 403.93,264.17 404.86,263.89 405.80,263.61 406.75,263.32 407.71,263.03 408.68,262.73 409.65,262.43 410.64,262.13 411.63,261.83 412.64,261.52 413.65,261.21 413.85,261.15"/>
<path stroke="#dc3b38" d="M147.13,247.11 148.12,243.87 149.11,240.66 150.09,237.49 151.06,234.34 152.03,231.23 152.41,229.99M154.49,223.27 155.42,220.26 156.34,217.29 157.25,214.34 158.16,211.43 159.05,208.54 159.59,206.83M161.69,200.07 162.56,197.31 163.42,194.58 164.27,191.87 165.11,189.20 165.95,186.55 166.78,183.94 166.94,183.42M169.06,176.77 169.87,174.27 170.66,171.80 171.45,169.35 172.24,166.94 173.02,164.55 173.79,162.20 174.56,159.87M176.68,153.50 177.42,151.28 178.16,149.09 178.90,146.93 179.63,144.80 180.35,142.70 181.08,140.62 181.79,138.57 182.50,136.55M184.89,129.90 185.59,128.00 186.28,126.13 186.97,124.29 187.65,122.48 188.33,120.70 189.00,118.94 189.68,117.21 190.35,115.51 191.01,113.83 191.41,112.84M194.05,106.48 194.70,104.96 195.35,103.46 196.00,101.99 196.65,100.55 197.29,99.13 197.94,97.74 198.58,96.38 199.22,95.05 199.86,93.74 200.50,92.46 201.14,91.20 201.77,89.97 202.03,89.48M205.58,83.13 206.22,82.09 206.85,81.06 207.49,80.07 208.12,79.10 208.76,78.15 209.39,77.23 210.03,76.33 210.67,75.46 211.30,74.62 211.94,73.80 212.58,73.01 213.23,72.24 213.87,71.49 214.52,70.77 215.16,70.08 215.81,69.41 216.46,68.76 217.12,68.14 217.77,67.55 218.43,66.98 219.09,66.43M225.44,62.47 226.13,62.17 226.83,61.90 227.53,61.65 228.24,61.42 228.95,61.22 229.66,61.04 230.38,60.88 231.10,60.75 231.83,60.64 232.56,60.55 233.30,60.49 234.04,60.45 234.79,60.44 235.54,60.50 236.29,60.62 237.04,60.80 237.80,61.04 238.55,61.34 239.31,61.70 240.07,62.11 240.83,62.59 241.59,63.11 242.35,63.70 242.50,63.82M248.34,70.01 249.12,71.03 249.89,72.09 250.67,73.20 251.44,74.36 252.22,75.55 253.00,76.79 253.78,78.07 254.56,79.39 255.34,80.74 256.12,82.14 256.90,83.57 257.69,85.03 258.47,86.53 258.63,86.84M261.92,93.52 262.71,95.19 263.50,96.89 264.29,98.62 265.07,100.37 265.86,102.15 266.65,103.95 267.44,105.78 268.23,107.63 269.02,109.50 269.33,110.25M272.02,116.79 272.81,118.76 273.60,120.74 274.39,122.73 275.18,124.74 275.97,126.76 276.75,128.80 277.54,130.84 278.33,132.90 278.65,133.73M281.17,140.38 281.96,142.47 282.74,144.57 283.53,146.67 284.32,148.78 285.10,150.88 285.89,152.99 286.67,155.10 287.45,157.21M289.80,163.52 290.58,165.62 291.36,167.71 292.14,169.80 292.92,171.87 293.70,173.94 294.47,176.00 295.25,178.05 296.02,180.09 296.18,180.50M298.65,186.93 299.42,188.91 300.19,190.87 300.95,192.81 301.72,194.74 302.48,196.65 303.25,198.54 304.01,200.40 304.77,202.25 305.53,204.07M308.25,210.42 309.00,212.12 309.75,213.80 310.50,215.44 311.25,217.06 311.99,218.64 312.73,220.20 313.48,221.71 314.22,223.20 314.95,224.65 315.69,226.06 316.42,227.44M320.06,233.73 320.78,234.87 321.50,235.96 322.22,237.01 322.93,238.01 323.65,238.96 324.36,239.87 325.06,240.73 325.77,241.53 326.47,242.30 327.17,243.04 327.86,243.77 328.55,244.48 329.24,245.17 329.92,245.84 330.60,246.50 331.28,247.14 331.95,247.76 332.62,248.37 333.29,248.96 333.95,249.53 334.61,250.09 334.87,250.30M341.21,254.82 341.85,255.20 342.48,255.56 343.11,255.90 343.75,256.23 344.38,256.54 345.01,256.84 345.64,257.12 346.27,257.39 346.90,257.64 347.52,257.88 348.15,258.10 348.78,258.31 349.41,258.51 350.03,258.69 350.66,258.85 351.29,259.00 351.92,259.14 352.54,259.27 353.17,259.37 353.80,259.47 354.43,259.55 355.06,259.62 355.70,259.67 356.33,259.71 356.97,259.74 357.60,259.75 358.24,259.75 358.37,259.75M364.60,259.08 365.26,258.94 365.93,258.79 366.60,258.63 367.27,258.46 367.94,258.27 368.62,258.08 369.30,257.87 369.99,257.65 370.68,257.42 371.37,257.17 372.07,256.92 372.77,256.66 373.48,256.38 374.19,256.09 374.90,255.79 375.62,255.48 376.35,255.16 377.07,254.83 377.81,254.49 378.55,254.14 379.29,253.78 380.04,253.41 380.80,253.02 381.56,252.63 381.71,252.55M388.02,249.04 388.83,248.56 389.66,248.07 390.49,247.57 391.33,247.06 392.17,246.54 393.03,246.01 393.89,245.48 394.75,244.93 395.63,244.38 396.51,243.82 397.40,243.25 398.30,242.67 399.21,242.09 400.12,241.50 401.04,240.89 401.97,240.28 402.91,239.67 403.86,239.04 404.82,238.41 405.01,238.28M411.37,234.05 412.40,233.36 413.44,232.67 413.85,232.39"/>
<path stroke="#2a9dd2" d="M147.13,226.19 148.12,225.73 149.11,225.27 150.09,224.82 151.07,224.37 152.03,223.93 152.98,223.49 153.92,223.06 154.86,222.63 155.79,222.21 156.70,221.78 157.61,221.37 158.52,220.96 159.41,220.55 160.30,220.15 161.17,219.75 162.04,219.35 162.91,218.96 163.76,218.58 164.27,218.35M170.67,215.51 171.46,215.17 172.24,214.83 173.02,214.49 173.79,214.16 174.56,213.83 175.32,213.51 176.08,213.19 176.83,212.88 177.57,212.57 178.31,212.26 179.05,211.96 179.78,211.66 180.50,211.37 181.22,211.08 181.94,210.80 182.65,210.52 183.36,210.24 184.06,209.97 184.76,209.70 185.45,209.44 186.14,209.18 186.83,208.93 187.51,208.68 187.79,208.58M194.05,206.46 194.70,206.26 195.36,206.06 196.00,205.86 196.65,205.67 197.30,205.49 197.94,205.31 198.58,205.13 199.22,204.95 199.86,204.78 200.50,204.62 201.14,204.46 201.78,204.30 202.41,204.15 203.05,204.00 203.68,203.86 204.32,203.72 204.95,203.58 205.59,203.45 206.22,203.33 206.85,203.20 207.49,203.08 208.12,202.97 208.76,202.86 209.39,202.75 210.03,202.65 210.67,202.56 211.18,202.48M217.38,201.79 218.04,201.74 218.70,201.70 219.36,201.66 220.02,201.62 220.69,201.59 221.36,201.56 222.03,201.53 222.70,201.51 223.38,201.50 224.07,201.49 224.75,201.48 225.44,201.47 226.13,201.47 226.83,201.48 227.53,201.49 228.24,201.50 228.95,201.52 229.66,201.54 230.38,201.57 231.10,201.59 231.83,201.63 232.56,201.67 233.30,201.71 234.04,201.75 234.49,201.78M240.80,202.54 241.55,202.67 242.31,202.81 243.07,202.95 243.82,203.11 244.58,203.27 245.34,203.44 246.10,203.61 246.86,203.80 247.62,203.99 248.38,204.19 249.14,204.39 249.91,204.60 250.67,204.82 251.43,205.04 252.20,205.27 252.96,205.51 253.73,205.75 254.50,206.00 255.26,206.26 256.03,206.52 256.80,206.78 257.57,207.05 257.87,207.16M264.19,209.59 264.97,209.91 265.74,210.23 266.51,210.55 267.29,210.88 268.06,211.22 268.83,211.55 269.61,211.89 270.38,212.23 271.16,212.58 271.93,212.93 272.71,213.28 273.48,213.63 274.26,213.99 275.03,214.35 275.81,214.71 276.58,215.07 277.36,215.44 278.14,215.81 278.91,216.18 279.69,216.55 280.46,216.92 281.24,217.30 281.40,217.37M287.60,220.41 288.38,220.79 289.15,221.17 289.93,221.56 290.70,221.94 291.48,222.32 292.25,222.70 293.03,223.08 293.80,223.46 294.58,223.84 295.35,224.22 296.12,224.60 296.90,224.97 297.67,225.35 298.44,225.72 299.21,226.09 299.99,226.46 300.76,226.83 301.53,227.20 302.30,227.56 303.07,227.92 303.84,228.28 304.61,228.64 304.76,228.71M311.05,231.53 311.81,231.86 312.58,232.18 313.34,232.50 314.10,232.82 314.86,233.13 315.63,233.44 316.39,233.74 317.15,234.04 317.90,234.33 318.66,234.62 319.42,234.90 320.18,235.18 320.93,235.46 321.69,235.72 322.44,235.99 323.20,236.24 323.95,236.49 324.70,236.74 325.45,236.98 326.20,237.21 326.95,237.44 327.69,237.67 328.13,237.80M334.42,239.68 335.12,239.89 335.81,240.09 336.50,240.29 337.18,240.48 337.86,240.68 338.54,240.87 339.22,241.06 339.89,241.25 340.56,241.44 341.22,241.63 341.89,241.81 342.55,241.99 343.21,242.17 343.87,242.35 344.52,242.53 345.17,242.70 345.83,242.88 346.47,243.05 347.12,243.22 347.77,243.39 348.41,243.56 349.06,243.73 349.70,243.89 350.34,244.06 350.98,244.22 351.62,244.38M357.76,245.88 358.40,246.03 359.04,246.18 359.69,246.33 360.33,246.48 360.97,246.63 361.62,246.77 362.27,246.92 362.91,247.07 363.56,247.21 364.22,247.36 364.87,247.50 365.53,247.65 366.18,247.79 366.84,247.93 367.51,248.08 368.17,248.22 368.84,248.36 369.51,248.50 370.18,248.65 370.86,248.79 371.54,248.93 372.22,249.07 372.91,249.21 373.60,249.35 374.29,249.50 374.99,249.64M381.15,250.87 381.89,251.01 382.64,251.15 383.39,251.30 384.14,251.44 384.90,251.59 385.67,251.74 386.44,251.88 387.22,252.03 388.00,252.18 388.79,252.33 389.58,252.48 390.39,252.63 391.19,252.78 392.01,252.94 392.83,253.09 393.66,253.24 394.49,253.40 395.34,253.56 396.18,253.71 397.04,253.87 397.91,254.03 398.25,254.10M404.54,255.25 405.47,255.42 406.41,255.59 407.36,255.77 408.32,255.94 409.29,256.12 410.26,256.30 411.25,256.48 412.24,256.66 413.25,256.84 413.85,256.95"/>
</g>
<g transform="scale(1.3570,1)" fill="none" stroke-width="1.90" stroke-dasharray="17.300 6.100">
<path stroke="#1f8449" d="M326.46,6.50 L391.30,6.50"/>
<path stroke="#b8407c" d="M326.46,22.05 L391.30,22.05"/>
<path stroke="#8f8c66" d="M326.46,37.60 L391.30,37.60"/>
<path stroke="#56788e" d="M326.46,53.15 L391.30,53.15"/>
<path stroke="#82574a" d="M326.46,68.70 L391.30,68.70"/>
<path stroke="#f2e830" d="M326.46,84.25 L391.30,84.25"/>
<path stroke="#4c6f5d" d="M326.46,99.80 L391.30,99.80"/>
<path stroke="#3a2a7a" d="M326.46,115.35 L391.30,115.35"/>
<path stroke="#dc3b38" d="M326.46,130.90 L391.30,130.90"/>
<path stroke="#2a9dd2" d="M326.46,146.45 L391.30,146.45"/>
</g>
<text transform="translate(538.5,10.65) scale(1.269,1)" font-size="13.50">CID5281604</text>
<text transform="translate(538.5,26.20) scale(1.269,1)" font-size="13.50">CID5315126</text>
<text transform="translate(538.5,41.75) scale(1.269,1)" font-size="13.50">CID9818879</text>
<text transform="translate(538.5,57.30) scale(1.269,1)" font-size="13.50">CID5481966</text>
<text transform="translate(538.5,72.85) scale(1.269,1)" font-size="13.50">CID5282154</text>
<text transform="translate(538.5,88.40) scale(1.269,1)" font-size="13.50">CID13964550</text>
<text transform="translate(538.5,103.95) scale(1.269,1)" font-size="13.50">CID5281691</text>
<text transform="translate(538.5,119.50) scale(1.269,1)" font-size="13.50">CID11834044</text>
<text transform="translate(538.5,135.05) scale(1.269,1)" font-size="13.50">CID6477685</text>
<text transform="translate(538.5,150.60) scale(1.269,1)" font-size="13.50">Quercetin</text>
</svg>
</body></html>
